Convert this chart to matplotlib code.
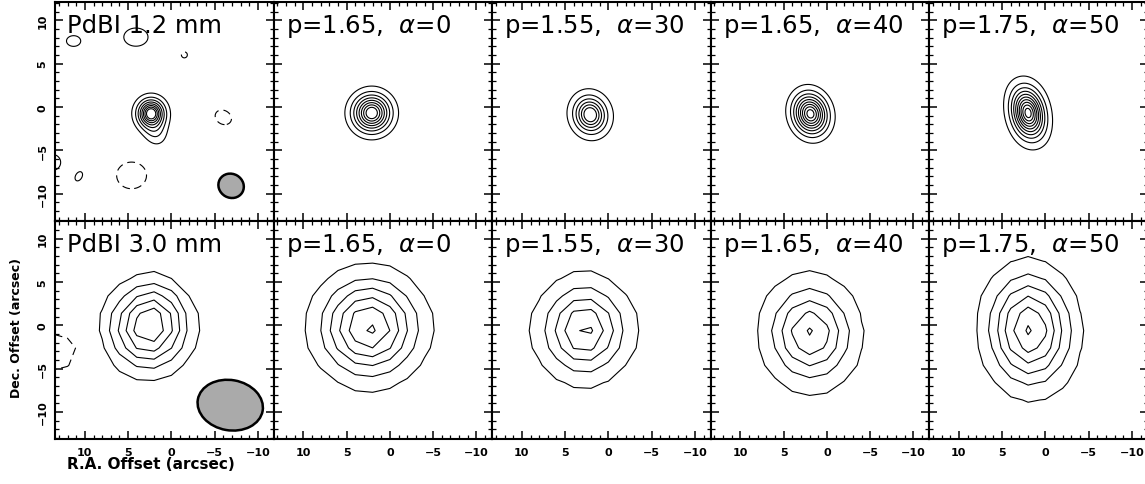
import numpy as np
import matplotlib
matplotlib.use("Agg")
import matplotlib.pyplot as plt
from matplotlib.patches import Ellipse
from matplotlib.ticker import MultipleLocator

# panel labels
TITLES_TOP = ["PdBI 1.2 mm", r"p=1.65,  $\alpha$=0", r"p=1.55,  $\alpha$=30",
              r"p=1.65,  $\alpha$=40", r"p=1.75,  $\alpha$=50"]
TITLES_BOT = ["PdBI 3.0 mm", r"p=1.65,  $\alpha$=0", r"p=1.55,  $\alpha$=30",
              r"p=1.65,  $\alpha$=40", r"p=1.75,  $\alpha$=50"]

XTICKS = [10, 5, 0, -5, -10]
XTICK_LABELS = ["10", "5", "0", "\u22125", "\u221210"]
YTICKS = [10, 5, 0, -5, -10]
YTICK_LABELS = ["10", "5", "0", "\u22125", "\u221210"]

# emission components:
# (amplitude, RA off, Dec off, scale ["], minor/major, PA [deg E of N], profile index)
SRC_12MM = [(1.0, 2.35, -0.75, 1.4, 0.95, 0, 1.6),
            (0.16, 1.8, -3.0, 1.7, 0.8, 15, 2.0)]
NOISE_12MM = [(0.2, 11.3, 7.6, 1.0, 0.75, 90, 2),
              (0.2, 4.1, 8.05, 1.7, 0.75, 90, 2),
              (-0.13, -1.5, 6.0, 0.7, 1.0, 0, 2),
              (-0.2, -6.0, -1.2, 1.2, 0.8, 60, 2),
              (-0.2, 4.6, -7.9, 2.1, 0.89, 90, 2),
              (0.2, 10.7, -8.0, 0.7, 0.65, 150, 2),
              (0.2, 13.7, -6.4, 1.1, 1.0, 0, 2)]
MOD_12MM = [
    [(1.0, 2.1, -0.7, 1.9, 1.0, 0, 1.7)],
    [(1.0, 2.1, -0.9, 1.85, 0.88, 15, 1.7)],
    [(1.0, 1.9, -0.8, 2.1, 0.82, 15, 1.7)],
    [(1.0, 2.0, -0.7, 2.5, 0.64, 10, 1.7),
     (0.07, 2.0, -0.7, 3.3, 0.45, 30, 2.0)],
]

SRC_30MM = [(1.0, 2.7, -0.3, 4.4, 0.95, 0, 2.0),
            (0.15, 1.5, 2.0, 3.2, 0.8, 0, 2.0)]
NOISE_30MM = [(-0.3, 13.8, -3.0, 3.8, 0.7, 90, 2)]
MOD_30MM = [
    [(1.0, 2.4, -0.2, 5.0, 1.0, 0, 2.0)],
    [(1.0, 2.8, -0.5, 4.5, 0.92, 0, 2.0)],
    [(1.0, 1.9, -0.9, 4.8, 0.87, 5, 2.0)],
    [(1.0, 1.8, -0.5, 5.7, 0.73, 3, 2.0)],
]

# contour levels as fractions of the peak: (lowest, highest, count)
LEV_TOP = [(0.1, 0.8, 8), (0.1, 0.85, 8), (0.1, 0.78, 6), (0.1, 0.92, 9), (0.08, 0.93, 10)]
LEV_BOT = [(0.15, 0.83, 5), (0.12, 0.97, 6), (0.12, 0.97, 5), (0.12, 0.97, 5), (0.12, 0.97, 6)]

# synthesized beams: (RA, Dec, width, height, angle)
BEAM_12MM = (-6.9, -9.1, 3.0, 2.75, 30)
BEAM_30MM = (-6.8, -9.2, 7.6, 5.8, 10)


def field(X, Y, comps):
    Z = np.zeros_like(X)
    for amp, x0, y0, h, q, pa, g in comps:
        t = np.radians(pa)
        dx, dy = X - x0, Y - y0
        u = dx * np.sin(t) + dy * np.cos(t)
        v = dx * np.cos(t) - dy * np.sin(t)
        r = np.sqrt(u ** 2 + (v / q) ** 2) / h
        Z += amp * np.exp(-r ** g)
    return Z


plt.rcParams["lines.dashed_pattern"] = [7, 4.5]

fine = np.arange(-15, 16, 0.1)
XF, YF = np.meshgrid(fine, fine)
coarse = 2.0 * np.arange(-9, 10)
XC, YC = np.meshgrid(coarse + 2.0, coarse - 0.6)

W, H = 1145, 485
PW = 218.5
fig = plt.figure(figsize=(W / 100, H / 100), dpi=100)

for row in range(2):
    for col in range(5):
        left = 55 + col * PW
        top = 3 + row * PW
        ax = fig.add_axes([left / W, (H - top - PW) / H, PW / W, PW / H])

        if row == 0:
            X, Y = XF, YF
            if col == 0:
                Z = field(X, Y, SRC_12MM + NOISE_12MM)
            else:
                Z = field(X, Y, MOD_12MM[col - 1])
            lo, hi, n = LEV_TOP[col]
            title = TITLES_TOP[col]
        else:
            X, Y = XC, YC
            if col == 0:
                Z = field(X, Y, SRC_30MM + NOISE_30MM)
            else:
                Z = field(X, Y, MOD_30MM[col - 1])
            lo, hi, n = LEV_BOT[col]
            title = TITLES_BOT[col]

        zmax = Z.max()
        levels = np.linspace(lo, hi, n) * zmax
        ax.contour(X, Y, Z, levels=levels, colors="black", linewidths=0.8)
        if col == 0:
            ax.contour(X, Y, Z, levels=[-lo * zmax], colors="black",
                       linewidths=0.8, linestyles="dashed")
            bx, by, bw, bh, ba = BEAM_12MM if row == 0 else BEAM_30MM
            ax.add_patch(Ellipse((bx, by), bw, bh, angle=ba, facecolor="#aaaaaa",
                                 edgecolor="black", linewidth=1.8, zorder=3))

        ax.text(0.055, 0.862, title, transform=ax.transAxes, fontsize=17.5,
                ha="left", va="baseline")

        ax.set_xlim(13.45, -11.8)
        ax.set_ylim(-13.1, 12.1)
        ax.set_xticks(XTICKS)
        ax.set_yticks(YTICKS)
        ax.xaxis.set_minor_locator(MultipleLocator(1))
        ax.yaxis.set_minor_locator(MultipleLocator(1))
        ax.tick_params(which="both", direction="in", top=True, right=True,
                       pad=5.5, labelsize=8)
        ax.tick_params(which="major", length=5.8, width=1.1)
        ax.tick_params(which="minor", length=3.2, width=0.9)
        for s in ax.spines.values():
            s.set_linewidth(1.5)

        if row == 1:
            ax.set_xticklabels(XTICK_LABELS, fontweight="bold")
        else:
            ax.set_xticklabels([])
        if col == 0:
            ax.set_yticklabels(YTICK_LABELS, fontweight="bold", rotation=90, va="center")
        else:
            ax.set_yticklabels([])

fig.text(151 / W, 1 - 465 / H, "R.A. Offset (arcsec)", ha="center", va="center",
         fontsize=11, fontweight="bold")
fig.text(17 / W, 1 - 328 / H, "Dec. Offset (arcsec)", ha="center", va="center",
         rotation=90, fontsize=9, fontweight="bold")

fig.savefig("out.png", dpi=100)
